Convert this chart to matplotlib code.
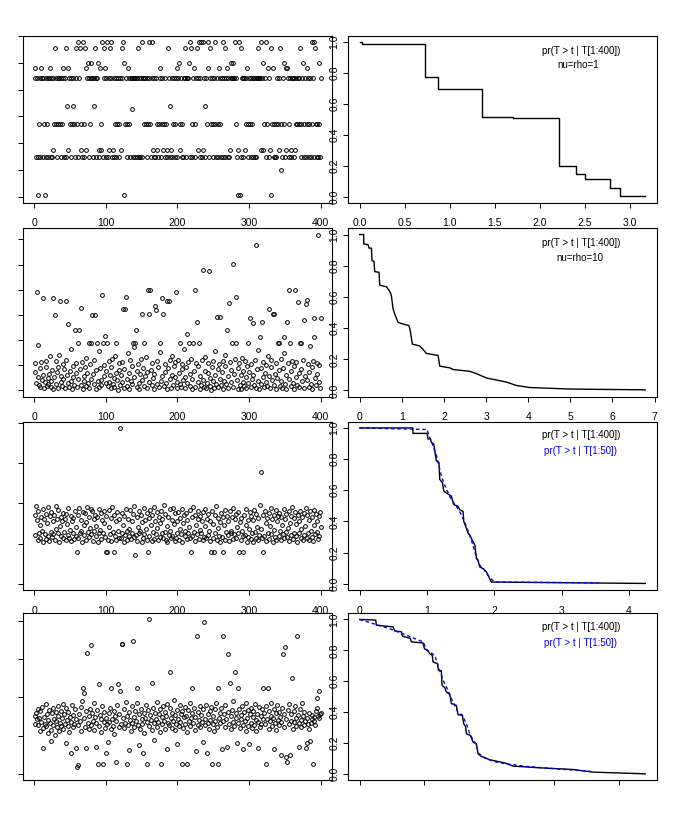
import matplotlib
matplotlib.use("Agg")
import matplotlib.pyplot as plt
import numpy as np
from matplotlib import font_manager

# ---------------- data ----------------
index = list(range(1, 401))

T_rho1 = [2.22,2.41,0.74,2.22,0.74,0.03,1.36,2.22,0.74,2.41,2.22,0.74,2.22,1.36,0.03,0.74,2.22,1.36,2.22,0.74,
2.22,2.41,0.74,2.22,0.74,2.22,0.875,1.36,2.78,2.22,1.36,0.74,2.22,1.36,2.22,1.36,0.74,2.22,1.36,2.22,
2.41,0.74,2.22,0.74,2.78,1.70,0.875,2.41,2.22,1.36,2.22,0.74,1.36,1.70,2.22,1.36,0.74,2.78,2.22,1.36,
2.89,0.74,2.22,2.78,0.875,1.36,0.74,2.89,0.74,1.36,2.78,0.875,2.41,2.22,2.50,0.74,2.22,1.36,2.22,2.50,
2.22,0.74,2.22,1.70,2.78,2.22,0.74,2.22,2.50,0.875,0.74,2.41,1.36,0.875,2.89,0.74,2.78,2.22,2.41,0.74,
2.22,2.89,0.74,2.22,0.875,2.78,2.89,2.22,0.74,0.875,2.22,0.74,1.36,2.22,0.74,1.36,2.22,0.74,1.36,2.22,
0.875,2.78,2.22,2.89,0.03,2.50,1.36,2.22,0.74,1.36,2.41,2.22,1.36,0.74,2.22,1.64,2.22,0.74,2.22,2.22,
0.74,2.22,0.74,2.22,2.78,0.74,2.22,0.74,2.22,2.89,0.74,2.22,2.22,1.36,2.22,1.36,0.74,2.22,1.36,2.89,
2.22,1.36,0.74,2.22,2.89,0.875,0.74,2.22,0.74,2.22,0.875,1.36,0.74,1.36,2.22,2.41,0.74,1.36,2.22,0.875,
1.36,0.74,2.22,1.36,0.875,0.74,2.78,2.22,0.74,1.70,0.875,2.22,0.74,1.36,2.22,0.74,1.36,2.22,0.74,2.41,
2.22,2.50,0.875,1.36,2.22,0.74,1.36,0.74,2.22,2.78,2.22,0.74,2.22,2.22,2.22,2.50,2.89,0.74,2.78,1.36,
0.74,2.22,2.41,1.36,0.74,2.22,2.78,0.875,2.22,2.89,0.74,2.22,2.89,0.74,2.89,0.875,2.22,0.74,1.70,2.22,
1.36,2.89,2.41,0.74,2.78,2.22,1.36,2.22,1.36,0.74,2.22,2.89,1.36,0.74,2.22,1.36,0.74,2.41,1.36,2.22,
0.74,2.22,2.89,0.74,2.22,0.74,2.78,2.22,2.41,0.74,2.22,0.74,0.875,2.50,2.22,2.22,2.22,2.50,2.22,2.89,
1.36,2.22,0.74,0.03,0.875,2.89,0.03,2.78,0.74,2.22,2.22,0.74,2.22,0.875,1.36,2.22,2.41,1.36,0.74,2.22,
1.36,2.22,0.74,1.36,2.22,0.74,2.22,0.74,2.22,0.74,2.22,2.22,2.78,2.22,2.22,0.875,2.89,2.22,0.875,2.50,
1.36,2.22,0.74,2.89,1.36,2.41,0.74,2.22,0.875,0.03,2.78,1.36,2.41,0.74,1.36,0.74,1.36,0.74,2.22,1.36,
0.875,2.22,2.78,1.36,0.49,0.74,2.22,1.36,2.50,0.74,2.41,0.875,2.41,2.22,1.36,0.74,2.22,0.74,0.875,2.22,
2.22,0.74,2.22,0.875,1.36,2.22,1.36,2.22,2.22,1.36,2.78,0.74,1.36,2.22,2.50,0.74,1.36,2.22,0.74,1.36,
2.41,2.22,0.74,1.36,2.22,0.74,2.89,1.36,2.22,0.74,2.89,2.78,1.36,0.74,1.36,0.74,1.36,2.50,0.74,2.22]

T_rho10 = [1.08,0.72,0.31,3.92,1.79,0.55,0.22,0.12,0.88,1.12,0.41,0.63,3.69,0.08,0.35,1.15,0.95,0.18,0.27,0.48,
0.66,1.35,0.14,0.39,0.81,0.06,3.69,0.52,2.99,1.18,0.25,0.74,0.11,0.92,1.42,3.56,0.33,0.58,0.19,1.05,
0.44,0.86,0.09,1.21,3.56,0.61,2.63,0.28,0.15,0.77,1.63,0.36,0.04,0.97,0.53,0.23,2.40,1.10,0.69,0.13,
0.47,1.89,2.40,0.84,3.29,0.21,1.14,0.07,0.59,0.38,0.93,1.28,0.16,0.70,0.30,1.90,0.10,1.06,1.89,0.45,
2.99,0.65,0.24,1.19,3.01,0.05,0.80,1.89,0.37,0.12,1.55,0.90,0.42,0.20,3.79,1.89,0.56,1.02,2.16,0.29,
0.76,1.89,0.17,1.16,0.34,0.62,0.08,0.95,1.24,0.26,0.51,0.14,1.38,1.88,0.71,0.40,0.03,1.09,0.83,0.22,
0.60,0.32,1.13,3.25,0.11,0.87,3.25,3.73,0.46,0.19,1.47,0.68,0.06,1.20,0.38,0.96,0.25,1.89,0.54,1.71,
1.89,2.40,0.15,0.78,1.07,0.29,0.05,0.64,1.23,3.03,0.43,0.91,1.89,0.18,0.57,1.31,0.09,0.73,4.00,0.35,
3.03,4.00,0.82,0.21,1.11,0.48,0.07,0.66,3.36,3.20,1.17,0.27,0.94,0.13,1.52,1.89,0.39,3.69,0.58,3.03,
0.16,1.04,0.75,0.31,0.04,3.56,0.89,3.56,1.22,0.44,0.10,0.62,1.36,0.23,0.97,0.52,1.13,3.92,0.34,0.08,
1.19,0.70,1.89,0.26,0.14,0.85,1.06,0.40,1.66,0.55,0.11,0.92,2.23,0.30,1.14,1.89,0.19,0.64,1.25,0.06,
0.47,1.89,0.79,4.00,0.12,1.10,2.72,0.33,0.98,1.89,0.05,0.58,0.22,1.21,4.80,0.41,0.15,0.76,1.33,0.09,
0.28,0.69,1.08,4.76,0.17,0.50,0.03,0.93,1.18,0.36,0.08,0.61,1.58,0.24,2.93,0.86,0.13,1.05,2.93,0.45,
0.20,0.74,1.16,0.06,0.39,0.96,1.42,0.27,2.40,0.56,0.10,3.47,1.12,0.83,0.32,1.89,5.03,0.15,0.67,1.23,
3.71,1.89,0.42,0.07,0.88,1.09,0.23,0.60,0.04,1.29,0.35,0.79,0.18,1.15,0.53,0.11,0.99,1.89,0.29,0.72,
2.87,0.14,1.07,0.46,2.67,0.63,0.20,1.20,0.09,5.76,0.84,0.37,1.61,0.05,2.13,0.91,0.26,2.72,1.14,0.54,
0.12,0.71,1.03,0.33,0.17,1.37,3.25,0.58,0.08,0.95,1.19,0.41,3.05,3.05,0.22,0.67,0.04,1.11,0.49,1.89,
0.81,1.89,0.16,1.24,0.38,0.10,0.90,1.48,2.13,0.27,0.62,0.06,2.72,1.08,0.44,4.00,1.89,0.19,0.77,1.17,
0.31,0.05,0.97,4.00,0.52,1.13,0.23,3.52,0.68,0.12,1.89,0.86,1.89,0.36,1.22,0.08,2.79,0.59,3.45,3.59,
0.42,1.06,0.15,0.73,1.76,0.25,0.94,0.07,1.18,2.87,2.13,0.49,0.20,1.10,0.65,6.19,0.34,1.01,0.11,2.87]

T_row3 = [1.21,1.72,1.94,1.58,1.09,1.80,1.26,1.45,1.14,1.66,1.31,1.05,1.86,1.62,1.24,1.12,1.74,1.50,1.19,1.90,
1.07,1.68,1.29,1.79,1.16,1.55,1.23,1.71,1.10,1.36,1.93,1.60,1.27,1.84,1.04,1.43,1.67,1.20,1.57,1.13,
1.77,1.28,1.62,1.08,1.73,1.48,1.22,1.88,1.15,1.34,1.69,1.06,1.56,1.25,1.64,1.11,1.82,1.41,1.18,0.79,
1.14,1.70,1.89,1.26,1.31,1.59,1.05,1.78,1.46,1.21,1.75,1.09,1.54,1.92,1.28,1.65,1.16,1.38,1.85,1.23,
1.80,1.07,1.61,1.30,1.71,1.19,1.44,1.66,1.04,1.87,1.25,1.33,1.76,1.12,1.58,1.27,1.51,1.81,1.17,0.79,
1.68,0.79,1.10,1.83,1.40,1.24,1.63,1.06,1.90,1.29,0.79,1.72,1.20,1.55,1.08,1.79,1.32,1.15,1.60,3.875,
1.13,1.77,1.26,1.47,1.05,1.69,1.22,1.86,1.30,1.09,1.62,1.18,1.37,1.83,1.11,1.57,1.25,1.73,1.16,1.94,
0.71,1.21,1.65,1.07,1.42,1.80,1.27,1.31,1.70,1.03,1.53,1.14,1.88,1.23,1.59,1.35,1.10,1.76,0.79,1.64,
1.19,1.84,1.45,1.06,1.71,1.28,1.91,1.12,1.56,1.24,1.78,1.39,1.08,1.67,1.17,1.50,1.82,1.26,1.61,1.14,
1.96,1.29,1.73,1.10,1.44,1.04,1.66,1.22,1.85,1.32,1.15,1.58,1.20,1.89,1.48,1.07,1.75,1.13,1.55,1.27,
1.79,1.09,1.63,1.36,1.23,1.87,1.05,1.52,1.70,1.18,1.30,1.77,1.11,1.59,1.25,1.41,1.83,1.14,0.79,1.65,
1.20,1.90,1.28,1.72,1.06,1.46,1.24,1.62,1.81,1.12,1.34,1.68,1.27,1.55,1.08,1.78,1.17,1.43,1.86,1.15,
1.60,1.22,1.74,1.31,1.07,1.57,0.79,1.82,1.13,1.49,0.79,1.70,1.26,1.93,1.10,1.38,1.64,1.19,1.54,1.04,
1.76,1.16,1.65,0.79,1.45,1.09,1.84,1.29,1.69,1.21,1.57,1.06,1.80,1.31,1.25,1.67,1.12,1.89,1.23,1.61,
1.14,1.73,1.40,1.27,1.79,0.79,1.53,1.08,1.63,1.30,1.18,0.79,1.71,1.22,1.47,1.86,1.05,1.59,1.16,1.35,
1.78,1.11,1.68,1.25,1.58,1.04,1.84,1.29,1.15,1.74,1.42,1.09,1.63,1.21,1.95,1.37,2.77,1.13,1.70,0.79,
1.20,1.81,1.50,1.06,1.64,1.27,1.75,1.12,1.44,1.88,1.23,1.60,1.03,1.72,1.33,1.17,1.83,1.10,1.56,1.69,
1.19,1.77,1.30,1.08,1.66,1.46,1.24,1.85,1.13,1.61,1.28,1.73,1.16,1.39,1.80,1.07,1.52,1.68,1.22,1.91,
1.11,1.63,1.27,1.79,1.18,1.48,1.05,1.71,1.25,1.57,1.82,1.14,1.36,1.66,1.09,1.76,1.21,1.43,1.88,1.15,
1.70,1.26,1.59,1.10,1.80,1.30,1.17,1.65,1.06,1.84,1.45,1.23,1.74,1.28,1.55,1.12,1.69,1.20,1.78,1.40]

T_row4 = [1.52,1.31,1.58,1.42,1.69,1.27,1.45,1.11,1.63,1.36,1.74,1.19,0.67,1.48,1.30,1.82,1.24,1.55,1.06,1.40,
1.66,1.33,1.15,0.85,1.59,1.28,1.71,1.44,1.02,1.62,1.37,1.21,1.77,1.50,1.13,1.34,1.65,1.26,1.47,1.83,
1.18,1.56,1.29,1.72,0.80,1.41,1.25,1.61,1.08,1.49,1.35,0.54,1.79,1.22,1.53,1.31,1.68,0.67,1.43,0.17,
1.27,0.24,1.57,1.38,1.12,1.75,1.91,2.24,2.10,1.46,1.23,1.64,0.67,3.15,1.33,1.51,1.17,1.70,3.37,1.28,
1.60,1.39,1.86,1.14,1.48,0.70,1.32,1.67,0.26,1.25,2.35,1.54,1.09,1.44,1.78,0.26,1.36,1.62,1.20,0.54,
1.47,1.29,0.82,1.58,1.35,1.73,1.16,2.23,1.42,1.26,1.65,1.04,1.51,0.32,1.38,1.80,2.35,1.23,1.56,2.15,
1.30,3.39,3.39,1.45,1.19,1.69,1.34,1.88,0.26,1.52,1.27,1.61,0.62,1.40,1.13,1.76,1.33,3.48,1.49,1.22,
1.64,1.37,1.84,2.24,1.28,0.75,1.55,1.18,1.70,1.43,1.31,0.54,1.59,1.06,1.47,1.81,0.26,1.35,1.66,4.03,
1.25,1.53,1.40,2.37,1.15,1.72,1.32,0.88,1.60,1.44,1.21,1.87,1.36,1.57,1.10,1.68,0.26,1.48,1.29,1.76,
1.39,1.62,1.17,1.50,0.66,1.83,1.33,1.27,1.71,2.65,1.45,1.20,1.58,1.37,1.92,1.14,1.54,1.31,1.67,0.78,
1.42,1.26,1.79,1.35,1.56,0.26,1.63,1.19,1.48,1.74,1.30,1.52,1.09,0.26,1.66,1.38,1.85,1.24,1.46,2.24,
1.58,1.34,1.71,1.15,1.49,0.59,3.59,1.28,1.61,1.40,1.78,1.22,1.53,1.36,0.84,1.69,3.96,1.27,1.44,1.81,
0.54,1.33,1.57,1.18,1.64,1.41,1.75,0.26,1.29,1.52,1.12,1.68,1.37,1.86,1.23,2.23,0.26,1.46,1.60,1.32,
1.73,0.66,3.59,1.39,1.55,1.21,1.80,1.43,0.71,1.62,3.13,1.30,2.37,1.50,1.16,1.67,1.35,1.89,1.26,2.65,
1.47,1.58,0.80,2.24,1.33,1.70,1.20,1.54,1.42,1.77,1.28,0.64,1.61,1.38,1.13,1.84,1.45,1.25,1.66,0.77,
1.56,1.34,1.72,1.19,1.48,1.63,1.27,1.82,1.40,1.11,1.57,1.36,0.67,1.74,1.23,1.51,1.31,1.68,1.44,2.24,
1.59,1.29,1.76,0.26,1.42,2.23,1.17,1.65,1.37,1.52,1.85,1.24,1.46,1.70,0.66,1.33,1.58,1.14,1.79,1.41,
1.27,1.62,1.49,1.36,0.50,1.73,3.13,1.21,1.55,3.30,0.43,1.44,0.32,1.67,1.30,1.83,0.50,1.39,1.57,2.50,
1.18,1.64,1.35,1.78,1.47,1.26,3.59,1.53,1.32,0.70,1.69,1.41,1.22,1.86,1.50,1.28,1.61,1.37,0.67,0.80,
1.45,1.30,1.59,1.16,0.86,1.34,1.42,1.54,0.26,1.48,1.38,1.27,1.63,1.97,1.72,1.52,1.47,2.16,1.56,1.60]

# survival curves
surv1_t = [0.0, 0.03, 0.728, 0.872, 1.355, 1.70, 2.21, 2.405, 2.50, 2.78, 2.89, 3.17]
surv1_S = [1.0, 0.99, 0.772, 0.696, 0.517, 0.506, 0.200, 0.147, 0.115, 0.054, 0.004, 0.004]

surv2_t = [0.0,0.095,0.095,0.198,0.222,0.277,0.293,0.34,0.356,0.459,0.475,0.633,0.712,0.751,0.791,0.83,0.91,
           1.03,1.17,1.2,1.25,1.42,1.5,1.58,1.7,1.86,1.9,2.14,2.22,2.61,2.77,3.01,3.28,3.48,3.72,4.03,5.0,6.78]
surv2_S = [1.0,1.0,0.94,0.935,0.913,0.913,0.833,0.827,0.762,0.758,0.675,0.665,0.636,0.61,0.524,0.491,0.437,
           0.426,0.416,0.383,0.297,0.286,0.264,0.238,0.232,0.225,0.156,0.145,0.134,0.123,0.108,0.08,0.065,0.054,0.032,0.019,0.009,0.004]

surv3_t = [0.0,0.79,0.79,1.0,1.015,1.05,1.064,1.10,1.114,1.139,1.177,1.188,1.228,1.248,1.287,1.36,1.396,1.46,1.485,
           1.535,1.545,1.584,1.61,1.634,1.668,1.71,1.733,1.757,1.782,1.832,1.881,1.906,1.941,1.955,4.24]
surv3_S = [1.0,1.0,0.965,0.965,0.929,0.929,0.907,0.896,0.853,0.788,0.777,0.67,0.648,0.594,0.583,0.562,0.508,0.497,0.475,
           0.464,0.40,0.356,0.324,0.313,0.281,0.248,0.162,0.151,0.108,0.097,0.076,0.054,0.022,0.011,0.002]
blue3_t = [0.0,1.0,1.03,1.08,1.149,1.213,1.277,1.36,1.436,1.51,1.584,1.658,1.723,1.782,1.842,1.906,1.97,2.03,3.54]
blue3_S = [1.0,0.99,0.95,0.896,0.81,0.69,0.616,0.54,0.497,0.443,0.367,0.281,0.184,0.119,0.093,0.054,0.022,0.011,0.006]

surv4_t = [0.0,0.247,0.257,0.515,0.54,0.643,0.659,0.782,0.798,0.978,1.0,1.05,1.08,1.12,1.132,1.20,1.215,1.261,1.271,
           1.313,1.338,1.39,1.415,1.492,1.518,1.585,1.606,1.637,1.647,1.709,1.75,1.802,1.827,1.878,2.007,2.239,2.367,2.779,3.294,3.6,4.41]
surv4_S = [1.0,0.996,0.963,0.952,0.926,0.92,0.892,0.877,0.855,0.848,0.81,0.80,0.779,0.768,0.725,0.714,0.671,0.667,0.574,
           0.558,0.53,0.515,0.455,0.444,0.383,0.379,0.325,0.303,0.26,0.249,0.206,0.195,0.13,0.113,0.091,0.071,0.05,0.039,0.028,0.011,0.0]
blue4_t = [0.0,0.463,0.72,0.978,1.04,1.158,1.235,1.287,1.364,1.441,1.518,1.585,1.647,1.709,1.776,1.843,1.956,2.11,2.265,2.573,3.037,3.551]
blue4_S = [1.0,0.94,0.898,0.855,0.80,0.768,0.671,0.606,0.541,0.465,0.40,0.38,0.325,0.249,0.206,0.13,0.097,0.076,0.065,0.048,0.032,0.017]

left_yticks = [[0, 0.5, 1.0, 1.5, 2.0, 2.5, 3.0], [0, 1, 2, 3, 4, 5, 6], [0, 1, 2, 3, 4], [0, 1, 2, 3, 4]]
right_xticks = [[0.0, 0.5, 1.0, 1.5, 2.0, 2.5, 3.0], [0, 1, 2, 3, 4, 5, 6, 7], [0, 1, 2, 3, 4], [0, 1, 2, 3, 4]]
right_xlabels = [["0.0", "0.5", "1.0", "1.5", "2.0", "2.5", "3.0"], ["0", "1", "2", "3", "4", "5", "6", "7"],
                 ["0", "1", "2", "3", "4"], None]
right_yticks = [0.0, 0.2, 0.4, 0.6, 0.8, 1.0]
right_ylabels = ["0.0", "0.2", "0.4", "0.6", "0.8", "1.0"]
left_xticks = [0, 100, 200, 300, 400]
legend_black = "pr(T > t | T[1:400])"
legend_blue = "pr(T > t | T[1:50])"
sub_notes = ["nu=rho=1", "nu=rho=10", None, None]

# ---------------- figure ----------------
avail = {f.name for f in font_manager.fontManager.ttflist}
fam = ["Liberation Sans Narrow", "Liberation Sans", "DejaVu Sans"]
fam = [f for f in fam if f in avail] or ["DejaVu Sans"]
plt.rcParams["font.family"] = fam

W, H = 681, 817
fig = plt.figure(figsize=(W / 100, H / 100), dpi=100)
fig.patch.set_facecolor("white")

rows = [(36, 202.7), (228.3, 396.7), (421.7, 590), (613.3, 780)]
LX = (23.3, 332.3)
RX = (348.3, 656.7)

def add_ax(xr, yr):
    l, r = xr
    t, b = yr
    return fig.add_axes([l / W, 1 - b / H, (r - l) / W, (b - t) / H])

Ts = [T_rho1, T_rho10, T_row3, T_row4]
curves = [(surv1_t, surv1_S, True), (surv2_t, surv2_S, False), (surv3_t, surv3_S, False), (surv4_t, surv4_S, False)]
blues = [None, None, (blue3_t, blue3_S), (blue4_t, blue4_S)]

FS = 7.5
for k in range(4):
    # ---- left scatter
    ax = add_ax(LX, rows[k])
    T = Ts[k]
    ax.plot(index, T, linestyle="none", marker="o", mfc="none", mec="black", ms=2.7, mew=0.7)
    ax.set_xlim(1 - 0.04 * 399, 400 + 0.04 * 399)
    m = max(T)
    ax.set_ylim(-0.04 * m, 1.04 * m)
    ax.set_xticks(left_xticks)
    if k < 3:
        ax.set_xticklabels([str(v) for v in left_xticks])
    else:
        ax.set_xticklabels([])
    ax.set_yticks(left_yticks[k])
    ax.set_yticklabels([])
    ax.tick_params(direction="out", length=3.8, width=0.7, labelsize=FS, pad=7.5)
    for s in ax.spines.values():
        s.set_linewidth(0.8)

    # ---- right survival
    ax2 = add_ax(RX, rows[k])
    ct, cS, is_step = curves[k]
    if is_step:
        ax2.step(ct, cS, where="post", color="black", lw=1.0)
    else:
        ax2.plot(ct, cS, color="black", lw=1.0)
    if blues[k] is not None:
        bt, bS = blues[k]
        ax2.plot(bt, bS, color="#0000ff", lw=1.0, linestyle=(0, (2.5, 2)))
    tm = max(ct)
    ax2.set_xlim(-0.04 * tm, 1.04 * tm)
    ax2.set_ylim(-0.04, 1.04)
    ax2.set_xticks(right_xticks[k])
    if right_xlabels[k] is not None:
        ax2.set_xticklabels(right_xlabels[k])
    else:
        ax2.set_xticklabels([])
    ax2.set_yticks(right_yticks)
    ax2.set_yticklabels(right_ylabels, rotation=90, va="center")
    ax2.tick_params(axis="x", direction="out", length=3.8, width=0.7, labelsize=FS, pad=7.5)
    ax2.tick_params(axis="y", direction="out", length=3.8, width=0.7, labelsize=FS, pad=2.5)
    for s in ax2.spines.values():
        s.set_linewidth(0.8)

# ---- annotations in right panels (pixel positions)
def ftext(x, y, s, color="black"):
    fig.text(x / W, 1 - y / H, s, ha="center", va="center", fontsize=7, color=color)

ftext(580.7, 50.7, legend_black)
ftext(578.5, 65.0, sub_notes[0])
ftext(580.7, 243.3, legend_black)
ftext(580.0, 258.3, sub_notes[1])
ftext(580.7, 435.0, legend_black)
ftext(580.7, 450.7, legend_blue, color="#0000ff")
ftext(580.7, 626.7, legend_black)
ftext(580.7, 642.7, legend_blue, color="#0000ff")

fig.savefig("out.png", dpi=100, facecolor="white")
